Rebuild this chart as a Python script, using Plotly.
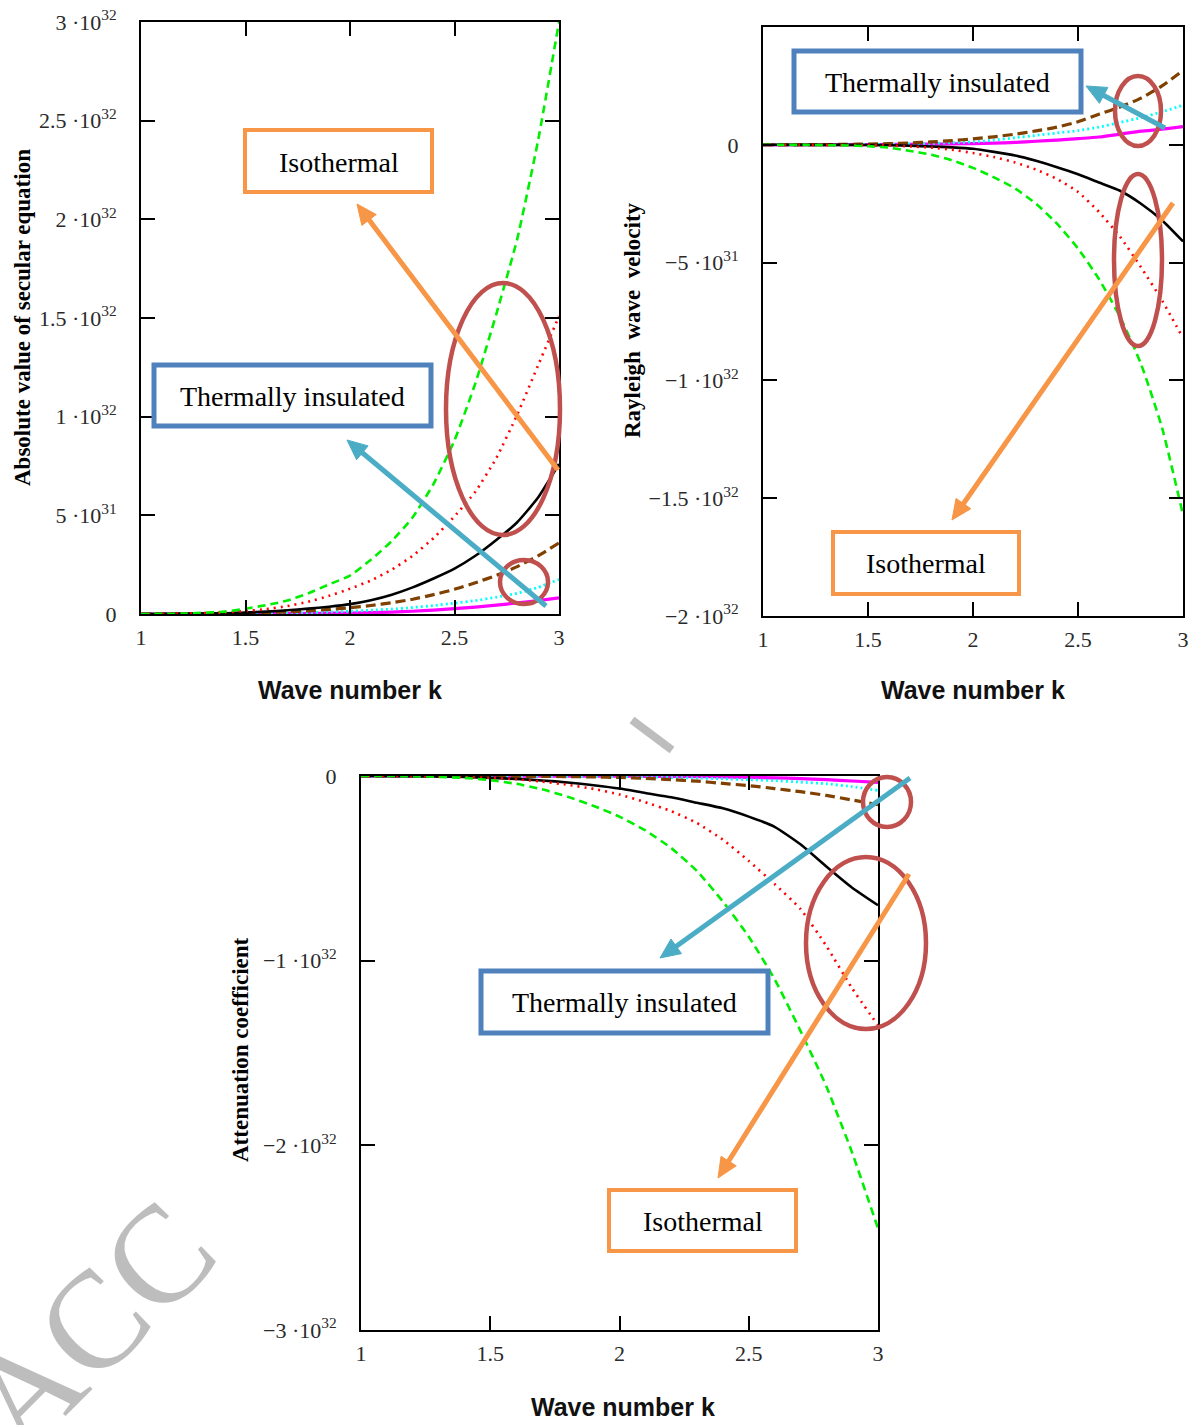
import math
import plotly.graph_objects as go

# ---------------- data (values in units of 1e31) ----------------
K = [1.0, 1.2, 1.4, 1.5, 1.6, 1.7, 1.8, 1.9, 2.0, 2.1, 2.2, 2.3, 2.4, 2.5, 2.6, 2.7, 2.8, 2.9, 3.0]
UNIT = 1e31

# Panel 1: absolute value of secular equation
SEC_GREEN   = [0, 0.02, 0.12, 0.27, 0.45, 0.68, 1.05, 1.5, 1.95, 2.75, 3.7, 4.9, 6.6, 8.8, 11.7, 15.2, 19.0, 24.0, 30.0]
SEC_RED     = [0, 0.02, 0.08, 0.15, 0.25, 0.4, 0.62, 0.92, 1.28, 1.7, 2.25, 2.95, 3.85, 4.95, 6.2, 7.9, 10.1, 12.6, 15.1]
SEC_BLACK   = [0, 0.01, 0.04, 0.07, 0.12, 0.19, 0.27, 0.37, 0.5, 0.7, 0.98, 1.35, 1.8, 2.3, 2.95, 3.75, 4.65, 5.9, 7.6]
SEC_BROWN   = [0, 0.01, 0.03, 0.05, 0.07, 0.11, 0.16, 0.23, 0.32, 0.43, 0.57, 0.75, 0.98, 1.25, 1.58, 1.96, 2.4, 2.95, 3.6]
SEC_CYAN    = [0, 0.005, 0.012, 0.02, 0.03, 0.045, 0.07, 0.1, 0.14, 0.19, 0.25, 0.33, 0.43, 0.55, 0.68, 0.85, 1.05, 1.35, 1.75]
SEC_MAGENTA = [0, 0.002, 0.006, 0.01, 0.015, 0.02, 0.03, 0.04, 0.05, 0.07, 0.1, 0.14, 0.2, 0.27, 0.35, 0.45, 0.56, 0.68, 0.82]

# Panel 2: Rayleigh wave velocity
VEL_GREEN   = [0, -0.005, -0.03, -0.06, -0.12, -0.26, -0.42, -0.66, -0.98, -1.38, -1.85, -2.5, -3.35, -4.4, -5.7, -7.3, -9.3, -12.0, -15.7]
VEL_RED     = [0, 0, -0.01, -0.02, -0.03, -0.07, -0.12, -0.21, -0.35, -0.52, -0.75, -1.05, -1.45, -2.0, -2.85, -3.9, -5.2, -6.6, -8.2]
VEL_BLACK   = [0, 0, -0.005, -0.01, -0.02, -0.04, -0.07, -0.11, -0.17, -0.3, -0.45, -0.68, -0.95, -1.25, -1.6, -1.95, -2.5, -3.2, -4.1]
VEL_BROWN   = [0, 0, 0.02, 0.03, 0.05, 0.08, 0.12, 0.18, 0.25, 0.34, 0.45, 0.59, 0.75, 0.98, 1.3, 1.6, 1.98, 2.5, 3.15]
VEL_CYAN    = [0, 0, 0.01, 0.015, 0.025, 0.04, 0.06, 0.09, 0.12, 0.2, 0.3, 0.4, 0.5, 0.6, 0.75, 0.95, 1.15, 1.4, 1.68]
VEL_MAGENTA = [0, 0, 0.005, 0.01, 0.015, 0.02, 0.03, 0.04, 0.05, 0.07, 0.1, 0.15, 0.2, 0.26, 0.33, 0.45, 0.58, 0.66, 0.77]

# Panel 3: attenuation coefficient
ATT_GREEN   = [0, -0.01, -0.1, -0.23, -0.42, -0.72, -1.12, -1.62, -2.2, -2.95, -3.9, -5.15, -6.8, -8.7, -11.0, -13.8, -16.8, -20.4, -24.5]
ATT_RED     = [0, -0.005, -0.05, -0.1, -0.18, -0.3, -0.48, -0.7, -1.0, -1.42, -1.9, -2.55, -3.45, -4.6, -5.85, -7.2, -9.2, -11.5, -13.5]
ATT_BLACK   = [0, -0.005, -0.05, -0.1, -0.16, -0.24, -0.35, -0.5, -0.68, -0.92, -1.15, -1.45, -1.75, -2.2, -2.75, -3.7, -4.9, -6.05, -7.0]
ATT_BROWN   = [0, 0, -0.005, -0.01, -0.015, -0.02, -0.03, -0.05, -0.08, -0.13, -0.2, -0.28, -0.4, -0.52, -0.68, -0.85, -1.05, -1.3, -1.55]
ATT_CYAN    = [0, 0, -0.002, -0.004, -0.006, -0.01, -0.015, -0.02, -0.03, -0.05, -0.08, -0.11, -0.15, -0.2, -0.25, -0.33, -0.42, -0.58, -0.78]
ATT_MAGENTA = [0, 0, 0, -0.001, -0.002, -0.003, -0.005, -0.007, -0.01, -0.015, -0.02, -0.03, -0.05, -0.07, -0.1, -0.14, -0.2, -0.27, -0.35]

X_TICKS = [1, 1.5, 2, 2.5, 3]
X_LABELS = ["1", "1.5", "2", "2.5", "3"]

Y1_TICKS = [0, 5e31, 1e32, 1.5e32, 2e32, 2.5e32, 3e32]
Y1_LABELS = ["0", "5 ·10<sup>31</sup>", "1 ·10<sup>32</sup>", "1.5 ·10<sup>32</sup>",
             "2 ·10<sup>32</sup>", "2.5 ·10<sup>32</sup>", "3 ·10<sup>32</sup>"]
Y2_TICKS = [0, -5e31, -1e32, -1.5e32, -2e32]
Y2_LABELS = ["0", "−5 ·10<sup>31</sup>", "−1 ·10<sup>32</sup>", "−1.5 ·10<sup>32</sup>", "−2 ·10<sup>32</sup>"]
Y3_TICKS = [0, -1e32, -2e32, -3e32]
Y3_LABELS = ["0", "−1 ·10<sup>32</sup>", "−2 ·10<sup>32</sup>", "−3 ·10<sup>32</sup>"]

Y1_RANGE = [0, 3e32]
Y2_RANGE = [-2e32, 5e31]
Y3_RANGE = [-3e32, 0]

# ---------------- styles ----------------
W, H = 1200, 1425
def px(x): return x / W
def py(y): return 1 - y / H

STYLES = {
    "green":   dict(color="#00EE00", width=2.6, dash="8px,5px"),
    "red":     dict(color="#FF0000", width=2.6, dash="2px,5px"),
    "black":   dict(color="#000000", width=2.6, dash="solid"),
    "brown":   dict(color="#7F4000", width=3.2, dash="10px,5px"),
    "cyan":    dict(color="#00FFFF", width=2.8, dash="2px,3px"),
    "magenta": dict(color="#FF00FF", width=3.2, dash="solid"),
}

PANELS = [
    ("x", "y", {"green": SEC_GREEN, "red": SEC_RED, "black": SEC_BLACK,
                "brown": SEC_BROWN, "cyan": SEC_CYAN, "magenta": SEC_MAGENTA}),
    ("x2", "y2", {"green": VEL_GREEN, "red": VEL_RED, "black": VEL_BLACK,
                  "brown": VEL_BROWN, "cyan": VEL_CYAN, "magenta": VEL_MAGENTA}),
    ("x3", "y3", {"green": ATT_GREEN, "red": ATT_RED, "black": ATT_BLACK,
                  "brown": ATT_BROWN, "cyan": ATT_CYAN, "magenta": ATT_MAGENTA}),
]

fig = go.Figure()
order = ["magenta", "cyan", "brown", "black", "red", "green"]
for xa, ya, series in PANELS:
    for name in order:
        vals = [v * UNIT for v in series[name]]
        fig.add_trace(go.Scatter(x=K, y=vals, xaxis=xa, yaxis=ya, mode="lines",
                                 line=dict(shape="spline", smoothing=0.5, **STYLES[name]),
                                 showlegend=False, hoverinfo="skip"))

tickfont = dict(family="Liberation Serif", size=22, color="#2a2a2a")
common = dict(showline=True, linecolor="black", linewidth=2, mirror="ticks",
              ticks="inside", ticklen=14, tickwidth=1.5, tickcolor="black",
              showgrid=False, zeroline=False, tickfont=tickfont, fixedrange=True,
              automargin=False)

fig.update_layout(
    template="none",
    width=W, height=H, margin=dict(l=0, r=0, t=0, b=0, pad=0), autosize=False,
    paper_bgcolor="white", plot_bgcolor="white",
    xaxis=dict(domain=[px(141), px(559)], range=[1, 3], anchor="y",
               tickvals=X_TICKS, ticktext=X_LABELS, ticklabelstandoff=3, **common),
    yaxis=dict(domain=[py(614), py(22)], range=Y1_RANGE, anchor="x",
               tickvals=Y1_TICKS, ticktext=Y1_LABELS, ticklabelstandoff=18, **common),
    xaxis2=dict(domain=[px(763), px(1183)], range=[1, 3], anchor="y2",
                tickvals=X_TICKS, ticktext=X_LABELS, ticklabelstandoff=3, **common),
    yaxis2=dict(domain=[py(616), py(27)], range=Y2_RANGE, anchor="x2",
                tickvals=Y2_TICKS, ticktext=Y2_LABELS, ticklabelstandoff=18, **common),
    xaxis3=dict(domain=[px(361), px(878)], range=[1, 3], anchor="y3",
                tickvals=X_TICKS, ticktext=X_LABELS, ticklabelstandoff=3, **common),
    yaxis3=dict(domain=[py(1330), py(776)], range=Y3_RANGE, anchor="x3",
                tickvals=Y3_TICKS, ticktext=Y3_LABELS, ticklabelstandoff=18, **common),
)

annotations = []
shapes = []

def text_ann(cx, cy, txt, font, angle=0):
    annotations.append(dict(x=px(cx), y=py(cy), xref="paper", yref="paper", text=txt,
                            showarrow=False, textangle=angle, font=font,
                            xanchor="center", yanchor="middle"))

# watermark fragments (behind-the-figure "ACCEPTED MANUSCRIPT" stamp)
text_ann(90, 1325, "ACC", dict(family="Liberation Serif", size=138, color="#BDBDBD"), -45)
shapes.append(dict(type="line", xref="paper", yref="paper", x0=px(632), y0=py(720),
                   x1=px(672), y1=py(750), line=dict(color="#BDBDBD", width=8)))

# axis titles
ytitle_font = dict(family="Liberation Serif", size=23, color="black")
xtitle_font = dict(family="Liberation Sans", size=25, color="#111111")
text_ann(22, 318, "<b>Absolute value of secular equation</b>", ytitle_font, -90)
text_ann(632, 320, "<b>Rayleigh  wave  velocity</b>", ytitle_font, -90)
text_ann(240, 1050, "<b>Attenuation coefficient</b>", ytitle_font, -90)
for (cx, cy) in [(350, 690), (973, 690), (623, 1407)]:
    text_ann(cx, cy, "<b>Wave number k</b>", xtitle_font)

BLUE = "#4F81BD"
ORANGE = "#F79646"
TEAL = "#4BACC6"
ELL = "#C0504D"
box_font = dict(family="Liberation Serif", size=28, color="black")

boxes = [
    (245, 130, 432, 192, ORANGE, 4, "Isothermal"),
    (154, 365, 431, 426, BLUE, 5, "Thermally insulated"),
    (794, 51, 1081, 112, BLUE, 5, "Thermally insulated"),
    (833, 532, 1019, 594, ORANGE, 4, "Isothermal"),
    (481, 971, 768, 1033, BLUE, 5, "Thermally insulated"),
    (609, 1190, 796, 1251, ORANGE, 4, "Isothermal"),
]
for x0, y0, x1, y1, col, lw, txt in boxes:
    shapes.append(dict(type="rect", xref="paper", yref="paper", x0=px(x0), y0=py(y0),
                       x1=px(x1), y1=py(y1), line=dict(color=col, width=lw),
                       fillcolor="white", layer="above"))
    text_ann((x0 + x1) / 2, (y0 + y1) / 2 + 1, txt, box_font)

ellipses = [
    (503, 409, 57, 126), (524, 582, 24, 22),
    (1138, 111, 23, 35), (1138, 260, 24, 86),
    (887, 802, 24, 25), (866, 943, 60, 86),
]
for cx, cy, rx, ry in ellipses:
    shapes.append(dict(type="circle", xref="paper", yref="paper",
                       x0=px(cx - rx), x1=px(cx + rx), y0=py(cy + ry), y1=py(cy - ry),
                       line=dict(color=ELL, width=4.5), layer="above"))

# arrows: (tail_x, tail_y, head_x, head_y, colour) drawn as line + filled head
arrows = [
    (558, 470, 357, 204, ORANGE),
    (546, 606, 347, 440, TEAL),
    (1165, 128, 1086, 86, TEAL),
    (1173, 203, 952, 520, ORANGE),
    (910, 778, 660, 958, TEAL),
    (909, 874, 718, 1178, ORANGE),
]
HEAD_L, HEAD_W = 20, 18
for tx, ty, hx, hy, col in arrows:
    dx, dy = hx - tx, hy - ty
    n = math.hypot(dx, dy)
    ux, uy = dx / n, dy / n
    bx, by = hx - HEAD_L * ux, hy - HEAD_L * uy
    nx, ny = -uy, ux
    shapes.append(dict(type="line", xref="paper", yref="paper",
                       x0=px(tx), y0=py(ty), x1=px(bx + 2 * ux), y1=py(by + 2 * uy),
                       line=dict(color=col, width=5), layer="above"))
    p1 = (bx + nx * HEAD_W / 2, by + ny * HEAD_W / 2)
    p2 = (bx - nx * HEAD_W / 2, by - ny * HEAD_W / 2)
    path = "M {:.5f} {:.5f} L {:.5f} {:.5f} L {:.5f} {:.5f} Z".format(
        px(hx), py(hy), px(p1[0]), py(p1[1]), px(p2[0]), py(p2[1]))
    shapes.append(dict(type="path", xref="paper", yref="paper", path=path,
                       fillcolor=col, line=dict(color=col, width=1), layer="above"))

fig.update_layout(annotations=annotations, shapes=shapes)
fig.write_html("out.html")
